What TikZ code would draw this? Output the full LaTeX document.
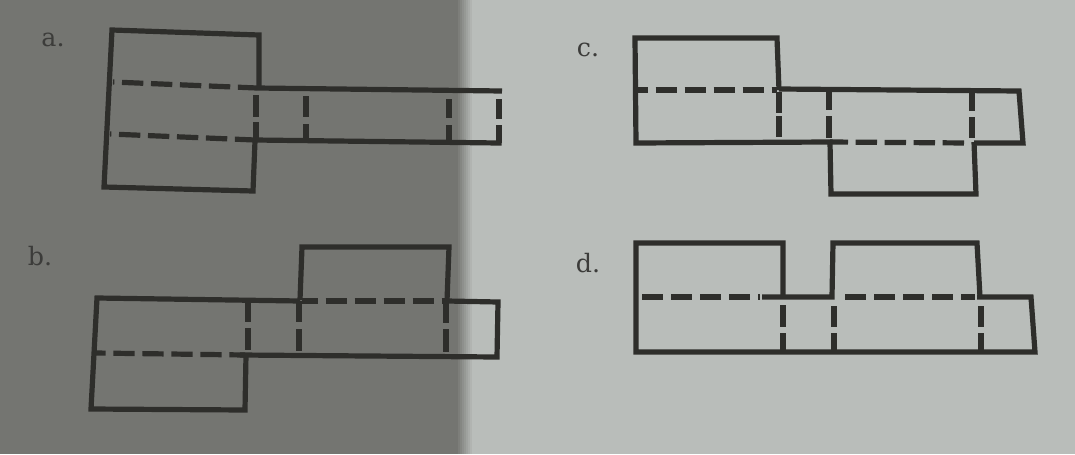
\documentclass[tikz,border=0pt]{standalone}
\usepackage{fontspec}
\setmainfont{DejaVu Serif}
\definecolor{ink}{HTML}{2E2E2B}
\definecolor{darkpaper}{HTML}{747571}
\definecolor{paper}{HTML}{B9BDBA}
\definecolor{labelink}{HTML}{3C3C3A}
\tikzset{
  outline/.style={draw=ink,line width=3.9pt,line join=miter},
  fold/.style={draw=ink,line width=3.9pt,dash pattern=on 16pt off 5.75pt},
  optlabel/.style={text=labelink,font=\fontsize{19pt}{21pt}\selectfont,inner sep=0pt,anchor=base}
}
\begin{document}
\begin{tikzpicture}[x=0.75pt,y=-0.75pt]
\useasboundingbox (0,0) rectangle (1075,454);
\fill[darkpaper] (0,0) rectangle (456,454);
\fill[paper] (474,0) rectangle (1075,454);
\foreach \i in {0,...,8}
  \fill[paper!\the\numexpr \i*100/8\relax!darkpaper] ({456+2*\i},0) rectangle ({458.5+2*\i},454);
% labels
\node[optlabel] (la) at (53,46) {a.};
\node[optlabel] (lb) at (40,265) {b.};
\node[optlabel] (lc) at (588,56) {c.};
\node[optlabel] (ld) at (588,272) {d.};
% a
\draw[outline] (259,88) -- (259,35) -- (112,30) -- (104,187) -- (253,191) -- (255,141);
\draw[outline] (257,88) -- (502,91);
\draw[outline] (255,140) -- (499,143) -- (499,125);
\draw[fold,dash phase=15pt] (113,82) -- (257,88);
\draw[fold,dash phase=15pt] (110,134) -- (255,140);
\foreach \x/\ya/\yb/\yc/\yd in {256/95/117/122/140,306/96/117/124/141,449/99/118/125/143,499/99/119/125/143}
  \draw[outline] (\x,\ya) -- (\x,\yb) (\x,\yc) -- (\x,\yd);
% b
\draw[outline] (300,300) -- (302,247) -- (449,247) -- (447,301);
\draw[outline] (300,301) -- (97,298) -- (91,409) -- (245,410) -- (246,355);
\draw[outline] (447,301) -- (498,302) -- (497,357) -- (240,355);
\draw[fold,dash phase=8pt] (95,353) -- (245,355);
\draw[fold,dash phase=4pt] (302,301) -- (447,301);
\foreach \x/\ya/\yb/\yc/\yd in {248/303/322/328/350,299/301/322/329/351,446/303/323/329/352}
  \draw[outline] (\x,\ya) -- (\x,\yb) (\x,\yc) -- (\x,\yd);
% c
\draw[outline] (779,90) -- (777,38) -- (635,38) -- (636,143) -- (830,142) -- (831,194) -- (976,194) -- (974,142);
\draw[outline] (779,89) -- (1019,91) -- (1023,143) -- (974,143);
\draw[fold,dash phase=7pt] (636,90) -- (777,90);
\draw[fold,dash phase=2.5pt] (830,142) -- (968,143);
\foreach \x/\ya/\yb/\yc/\yd in {779/92/113/116/137,829/90/110/116/138,972/92/111/117/138}
  \draw[outline] (\x,\ya) -- (\x,\yb) (\x,\yc) -- (\x,\yd);
% d
\draw[outline] (783,297) -- (783,243) -- (636,243) -- (636,352) -- (1035,352) -- (1031,297) -- (977,297);
\draw[outline] (980,297) -- (977,243) -- (833,243) -- (832,297) -- (762,297);
\draw[fold] (642,297) -- (760,297);
\draw[fold] (845,297) -- (975,297);
\foreach \x/\ya/\yb/\yc/\yd in {783/305/327/333/352,834/306/327/333/352,981/306/327/333/352}
  \draw[outline] (\x,\ya) -- (\x,\yb) (\x,\yc) -- (\x,\yd);
\end{tikzpicture}
\end{document}
